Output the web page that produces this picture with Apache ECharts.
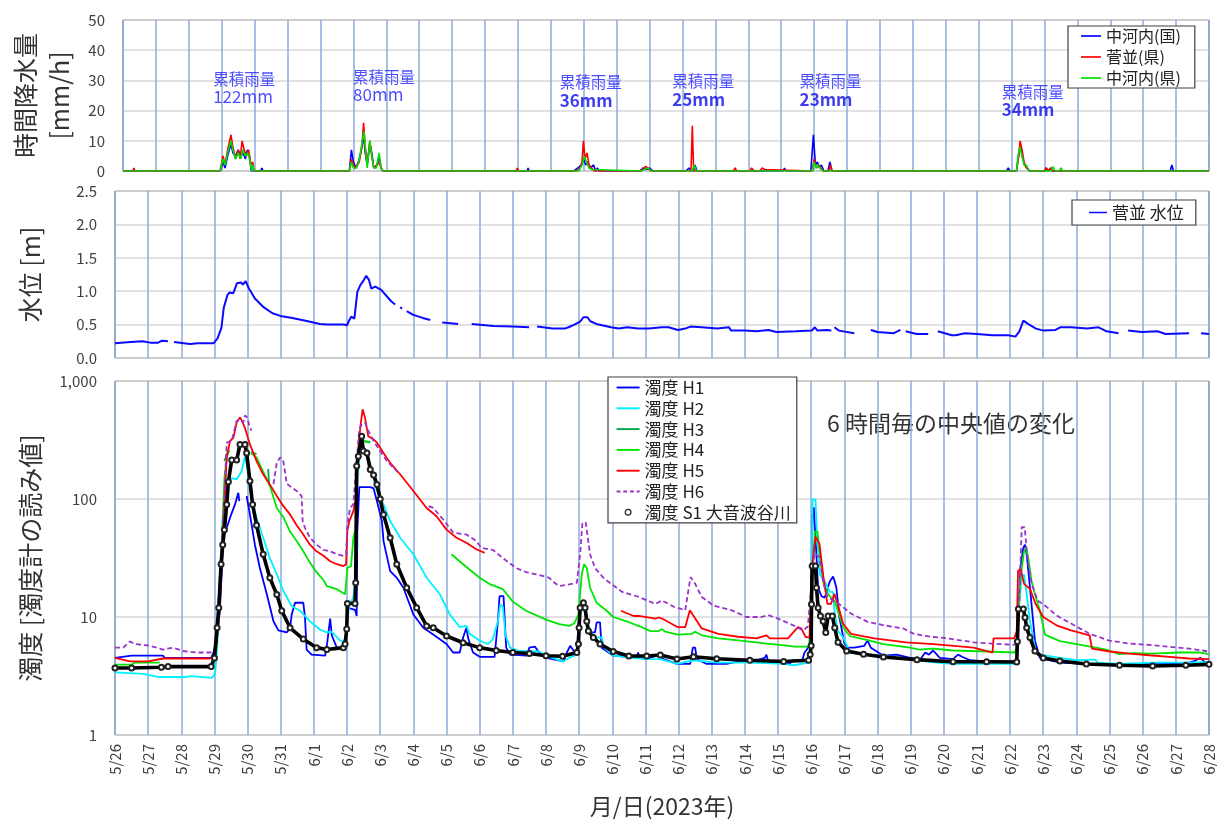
<!DOCTYPE html>
<html>
<head>
<meta charset="utf-8">
<script src="https://cdn.jsdelivr.net/npm/echarts@6/dist/echarts.min.js"></script>
<style>
  html, body { margin: 0; background: #fff; }
  #chart { width: 1217px; height: 821px; }
</style>
</head>
<body>
<div id="chart"></div>
<script>
// x = days since 5/26 00:00, null = gap in the record
const dateLabels = ['5/26','5/27','5/28','5/29','5/30','5/31','6/1','6/2','6/3','6/4','6/5','6/6','6/7','6/8','6/9','6/10',
  '6/11','6/12','6/13','6/14','6/15','6/16','6/17','6/18','6/19','6/20','6/21','6/22','6/23','6/24','6/25','6/26','6/27','6/28'];

// 時間降水量 [mm/h]
const rainNakagochiKuni = [[0,0],[2.95,0],[3.05,3],[3.1,1],[3.18,5],[3.28,9],[3.34,6],[3.42,5],[3.5,7],[3.58,5],[3.65,6],[3.72,4],[3.78,7],[3.84,5],[3.9,0],[4.18,0],[4.22,1],[4.26,0],
  [6.88,0],[6.94,7],[7.0,3],[7.08,1],[7.18,4],[7.26,8],[7.31,12],[7.36,6],[7.42,2],[7.5,9],[7.56,6],[7.62,1],[7.72,2],[7.78,5],[7.84,1],[7.9,0],
  [12.28,0],[12.31,1],[12.34,0],[13.7,0],[13.82,1],[13.92,2],[14.0,4],[14.06,2],[14.12,3],[14.2,1],[14.3,2],[14.36,0],[14.42,1],[14.46,0],
  [15.7,0],[15.8,1],[15.9,0.5],[16.0,1],[16.1,0],[17.1,0],[17.2,1],[17.26,0],[17.34,0],[17.38,2],[17.44,0],[20.06,0],[20.1,1],[20.14,0],
  [20.9,0],[20.98,12],[21.04,2],[21.1,3],[21.16,1],[21.22,2],[21.3,0],[21.42,0],[21.48,3],[21.54,0],
  [26.85,0],[26.9,1],[26.95,0],[27.15,0],[27.22,6],[27.28,8],[27.34,4],[27.4,2],[27.48,1],[27.55,0],
  [28.0,0],[28.05,1],[28.1,0],[28.2,1],[28.25,0],[31.82,0],[31.87,2],[31.92,0],[33,0]];
const rainSuganamiKen = [[0,0],[0.3,0],[0.33,1],[0.36,0],[2.95,0],[3.04,5],[3.1,2],[3.18,7],[3.28,12],[3.34,8],[3.42,4],[3.5,7],[3.56,4],[3.62,10],[3.68,7],[3.75,5],[3.82,7],[3.88,2],[3.94,3],[3.98,0],
  [6.88,0],[6.94,4],[7.0,2],[7.08,1],[7.18,3],[7.26,8],[7.31,16],[7.36,8],[7.42,2],[7.5,10],[7.56,5],[7.62,1],[7.72,2],[7.78,3],[7.84,1],[7.9,0],
  [11.95,0],[11.98,1],[12.02,0],[13.8,0],[13.88,1],[13.95,3],[13.99,10],[14.04,4],[14.1,6],[14.16,2],[14.24,1],[14.32,0],
  [15.75,0],[15.82,1],[15.9,1.5],[15.98,0.5],[16.05,0],[17.26,0],[17.3,15],[17.34,0],
  [18.55,0],[18.6,1],[18.65,0],[19.05,0],[19.1,1],[19.18,0],[19.35,0],[19.42,1],[19.5,0.5],[19.55,0],
  [20.95,0],[21.0,4],[21.06,1],[21.14,2],[21.2,1],[21.28,0],[21.45,0],[21.5,2],[21.55,0],
  [27.15,0],[27.22,5],[27.26,10],[27.32,7],[27.38,3],[27.45,1],[27.55,0],[28.0,0],[28.06,1],[28.12,0],[28.18,1],[28.24,0],[33,0]];
const rainNakagochiKen = [[0,0],[2.95,0],[3.04,4],[3.1,2],[3.18,6],[3.28,10],[3.34,7],[3.42,4],[3.5,6],[3.58,4],[3.64,7],[3.72,5],[3.8,6],[3.86,3],[3.92,0],[3.94,2],[3.98,0],
  [6.88,0],[6.94,3],[7.0,1],[7.1,1],[7.18,4],[7.26,9],[7.32,13],[7.37,7],[7.42,1],[7.5,10],[7.56,5],[7.62,1],[7.7,1],[7.78,6],[7.84,1],[7.9,0],
  [13.85,0],[13.95,2],[14.02,5],[14.08,3],[14.16,1],[14.24,0.5],[14.3,0],[15.75,0],[15.85,0.5],[15.95,1],[16.05,0],
  [17.3,0],[17.36,2],[17.42,0],[18.55,0],[18.6,0.5],[18.65,0],[20.95,0],[21.0,3],[21.06,1],[21.12,2],[21.18,1],[21.26,0],
  [27.15,0],[27.2,5],[27.25,8],[27.32,5],[27.38,2],[27.45,2],[27.52,0],[28.2,0],[28.26,1.5],[28.32,0],[28.45,0],[28.5,1],[28.55,0],[33,0]];

// 累積雨量 notes
const rainNoteText = ['122mm','80mm','36mm','25mm','23mm','34mm'];
const rainNoteDay = [2.74, 6.99, 13.27, 16.69, 20.56, 26.7];
const rainNoteLevel = [27.4, 28.1, 26.3, 26.6, 26.6, 23.0];

// 菅並 水位 [m]
const waterLevel = [[0,0.22],[0.47,0.24],[0.83,0.25],[1.06,0.23],[1.3,0.23],[1.42,0.26],[1.6,0.25],null,[1.78,0.24],[2.26,0.21],[2.5,0.22],[2.97,0.22],
  [3.09,0.29],[3.21,0.45],[3.28,0.75],[3.39,0.94],[3.45,0.98],[3.57,0.97],[3.68,1.12],[3.8,1.13],[3.86,1.1],[3.94,1.15],[4.04,1.04],[4.22,0.89],
  [4.46,0.77],[4.75,0.67],[4.99,0.63],[5.35,0.6],[5.82,0.55],[6.18,0.51],[6.42,0.5],[6.9,0.5],[7.0,0.49],[7.07,0.57],[7.13,0.62],[7.22,0.59],
  [7.31,0.99],[7.4,1.09],[7.46,1.09],[7.51,1.17],[7.58,1.23],[7.66,1.17],[7.73,1.04],[7.85,1.07],[7.91,1.08],[8.03,1.02],[8.33,0.85],[8.45,0.8],null,
  [8.6,0.76],[8.66,0.74],null,[8.8,0.7],[8.98,0.65],[9.28,0.6],[9.51,0.57],null,[9.87,0.53],[10.35,0.51],null,[10.76,0.51],[10.82,0.49],
  [11.42,0.48],[12.0,0.47],[12.49,0.46],null,[12.73,0.47],[13.2,0.44],[13.56,0.44],[13.68,0.46],[13.86,0.5],[14.04,0.55],[14.13,0.61],
  [14.25,0.61],[14.34,0.55],[14.52,0.51],[14.96,0.46],[15.2,0.44],[15.45,0.46],[15.78,0.44],[16.1,0.44],[16.5,0.46],[16.7,0.46],[16.98,0.42],
  [17.2,0.44],[17.36,0.47],[17.69,0.46],[18.17,0.44],[18.52,0.46],[18.58,0.41],[19.0,0.41],[19.35,0.4],[19.71,0.42],[19.95,0.39],[20.54,0.4],
  [21.02,0.41],[21.11,0.46],[21.19,0.41],[21.49,0.42],[21.61,0.41],null,[21.7,0.46],[21.84,0.41],[22.3,0.37],null,[22.8,0.42],[23.0,0.39],
  [23.48,0.37],[23.69,0.42],null,[23.85,0.4],[24.18,0.36],[24.53,0.36],null,[24.82,0.4],[25.24,0.34],[25.36,0.34],[25.64,0.37],[26.0,0.36],
  [26.47,0.34],[26.95,0.34],[27.16,0.32],[27.28,0.4],[27.4,0.56],[27.54,0.51],[27.78,0.44],[28.01,0.41],[28.37,0.42],[28.51,0.46],
  [28.84,0.46],[29.32,0.44],[29.67,0.46],[29.91,0.4],[30.27,0.37],null,[30.56,0.41],[30.97,0.39],[31.45,0.4],[31.69,0.36],[32.4,0.37],null,
  [32.76,0.37],[33,0.36]];

// 濁度 (6時間毎の中央値)
const turbH1 = [[0,4.5],[0.5,4.7],[1.45,4.7],[1.5,4.5],[2.9,4.5],[2.97,5.0],[3.06,6.3],[3.16,11],[3.27,47],[3.37,57],[3.52,76],[3.62,90],[3.72,113],[3.75,96],null,
  [3.97,106],[4.07,74],[4.22,41],[4.37,26],[4.58,15.6],[4.78,9.2],[4.93,7.7],[5.18,7.4],[5.28,8],[5.33,10.5],[5.43,13.2],[5.68,13.2],[5.73,10],
  [5.78,5.3],[5.93,4.8],[6.34,4.7],[6.4,6],[6.49,9.7],[6.54,7],[6.69,5.5],[6.89,5.3],[6.97,5.5],[7.01,12],[7.24,11.5],[7.29,10.2],[7.31,53],
  [7.37,126],[7.7,126],[7.8,123],[7.9,96],[8.05,65],[8.1,44],[8.3,24.5],[8.5,21.5],[8.7,17.7],[9.0,10.5],[9.3,8.1],[9.6,7.1],[10.0,5.9],[10.2,5.0],
  [10.4,5.0],[10.5,6.7],[10.6,8.1],[10.66,6.5],[10.8,5.0],[11.0,4.6],[11.45,4.6],[11.55,9.2],[11.6,15],[11.72,15],[11.8,5.5],[11.92,4.8],
  [12.42,4.7],[12.5,5.5],[12.67,5.6],[12.77,5.1],[13.02,4.5],[13.53,4.2],[13.63,5.0],[13.73,5.7],[13.85,5.1],[13.93,5.0],[14.01,12],[14.13,13.2],
  [14.2,10.5],[14.28,7.4],[14.48,7.4],[14.53,9.0],[14.63,9.0],[14.68,5.5],[15.03,4.7],[15.74,4.5],[15.78,5.0],[15.82,4.5],[16.04,4.4],[16.4,4.8],
  [16.55,4.4],[16.95,4.0],[17.35,4.0],[17.43,5.5],[17.5,5.5],[17.55,4.4],[17.85,4.0],[18.45,4.0],[18.8,4.2],[19.15,4.15],[19.6,4.5],[19.65,4.8],
  [19.7,4.2],[20.35,4.0],[20.45,4.3],[20.72,4.2],[20.8,5.0],[20.87,5.3],[20.95,5.9],[21.0,10.5],[21.04,74],[21.08,85],[21.13,47],[21.21,17.7],
  [21.31,15],[21.41,14.6],[21.56,20],[21.66,22],[21.71,20],[21.76,17.7],[21.85,10],[22.0,6],[22.1,5.5],[22.3,5.5],[22.6,5.7],[22.7,6.3],[22.8,5.5],
  [23.18,4.7],[23.58,4.8],[23.98,4.5],[24.3,4.4],[24.44,5.0],[24.55,4.8],[24.68,5.2],[24.88,4.5],[25.28,4.4],[25.43,4.8],[25.55,4.6],[25.79,4.3],
  [26.29,4.2],[27.2,4.2],[27.25,10.5],[27.31,26],[27.4,38.6],[27.45,41],[27.5,34],[27.6,17.7],[27.75,6.3],[27.9,4.5],[28.5,4.1],[29.3,4.0],
  [31.3,4.0],[32.4,4.1],[32.53,4.2],[32.74,4.5],[32.85,4.2],[33,4.0]];
const turbH2 = [[0,3.4],[0.85,3.3],[1.35,3.1],[2.1,3.1],[2.3,3.15],[2.36,3.05],[2.92,3.05],[3.02,3.3],[3.09,6],[3.17,20],[3.25,74],[3.32,102],
  [3.39,133],[3.52,150],[3.67,147],[3.82,172],[3.92,230],[3.97,200],[4.07,117],[4.27,69],[4.47,47],[4.67,31.6],[4.88,23],[5.08,16.6],[5.33,12.4],
  [5.58,11.3],[5.88,9.2],[6.19,7.8],[6.39,7.4],[6.54,7.5],[6.79,6.3],[6.94,6.3],[7.01,9],[7.07,12.8],[7.19,14.6],[7.27,26],[7.31,142],[7.39,255],
  [7.49,280],[7.6,240],[7.7,195],[7.8,150],[7.9,117],[8.1,90],[8.3,65],[8.6,47],[9.0,34],[9.4,21.5],[9.8,15.6],[10.1,10.5],[10.4,8.2],[10.6,8.4],
  [10.7,7.2],[11.0,6.3],[11.25,5.9],[11.4,6.5],[11.55,9.2],[11.62,12.8],[11.7,12.2],[11.78,7],[11.92,5.5],[12.2,5.15],[12.8,5.1],[13.0,4.7],
  [13.5,4.2],[13.7,4.5],[13.93,4.8],[14.0,10],[14.08,11.7],[14.15,11.3],[14.28,8.5],[14.43,6.7],[14.68,6.7],[14.75,5.5],[15.03,4.7],[15.64,4.5],
  [16.04,4.4],[16.45,4.4],[16.95,4.0],[17.45,4.3],[18.15,4.1],[19.15,4.1],[20.17,4.0],[20.47,3.9],[20.92,4.1],[21.0,10.5],[21.04,99],[21.13,99],
  [21.18,47],[21.26,23],[21.41,20],[21.56,16.3],[21.66,16.3],[21.71,10.5],[21.81,7.6],[21.97,6.7],[22.17,5.0],[22.58,4.8],[23.18,4.7],[23.7,4.5],
  [24.2,4.3],[24.78,4.1],[25.28,4.0],[27.2,4.0],[27.25,10.5],[27.35,22],[27.42,23],[27.5,15.6],[27.6,9.2],[27.75,5.5],[27.9,4.8],[28.5,4.5],
  [29.0,4.3],[29.56,4.35],[29.65,4.1],[30.3,4.0],[31.3,4.1],[32.3,4.1],[33,4.15]];
const turbH3 = [[3.3,210],[3.42,260],null,[4.1,250],[4.27,240],null,[4.62,180],[4.65,130],null,[7.45,310],[7.7,305]];
const turbH4 = [[0,3.95],[0.5,3.95],[0.6,4.1],[1.35,4.1],null,[2.95,4.0],[3.05,5],[3.15,12],[3.22,40],[3.3,150],[3.38,230],[3.45,260],null,
  [4.1,245],[4.27,225],[4.47,170],[4.67,130],[4.88,84],[5.08,70],[5.28,53],[5.48,44],[5.68,36],[5.88,29],[6.08,24],[6.29,20.5],[6.39,18.3],
  [6.69,17.2],[6.94,15.6],[7.01,26],[7.12,27],[7.19,47],[7.27,57],[7.31,190],[7.39,270],[7.49,310],[7.7,300],null,
  [10.15,34],[10.5,28],[11.0,21.5],[11.3,19],[11.7,17.2],[12.0,13.5],[12.4,11.3],[13.0,9.5],[13.4,8.7],[13.7,8.4],[13.85,8.8],[13.98,10.5],
  [14.08,23],[14.15,28],[14.23,26],[14.33,17.7],[14.53,13.2],[14.83,11.3],[15.03,10],[15.43,9.2],[15.84,8.3],[16.15,7.6],[16.4,7.6],[16.5,7.9],
  [16.6,7.5],[16.98,7.1],[17.4,7.2],[17.5,7.5],[17.7,7.0],[18.2,6.6],[18.65,6.4],[19.35,6.1],[19.65,5.95],[20.2,5.75],[20.5,5.6],[20.87,5.6],
  [20.95,5.8],[21.01,14],[21.06,28],[21.11,53],[21.19,53],[21.26,34],[21.36,20],[21.51,15.6],[21.71,13.6],[21.97,8.1],[22.17,6.9],[22.58,6.5],
  [23.18,5.9],[23.98,5.5],[24.27,5.3],[24.68,5.4],[25.28,5.2],[26.29,5.1],[27.15,5.0],[27.22,6],[27.3,20],[27.42,36],[27.48,39],[27.55,31.5],
  [27.65,20],[27.75,15.6],[27.9,11.3],[28.05,7.1],[28.5,6.25],[29.3,5.7],[29.9,5.3],[30.3,4.85],[30.7,4.95],[31.3,4.9],[32.1,5.0],[32.74,5.0],[33,4.85]];
const turbH5 = [[0,4.5],[0.45,4.2],[1.0,4.2],[1.45,4.45],[2.86,4.45],[2.97,4.6],[3.06,5.9],[3.16,12],[3.26,54],[3.37,224],[3.47,310],[3.57,330],
  [3.67,445],[3.77,490],[3.82,465],[3.87,460],[3.92,400],[4.07,290],[4.27,210],[4.47,162],[4.67,133],[4.88,106],[5.08,87],[5.28,74],[5.48,60],
  [5.68,50],[5.88,41],[6.08,36],[6.29,33],[6.49,29.7],[6.69,28],[6.89,27],[6.97,28],[7.01,54],[7.07,65],[7.19,79],[7.27,102],[7.34,270],
  [7.41,430],[7.47,575],[7.54,490],[7.64,340],[7.8,320],[7.9,300],[8.1,245],[8.3,202],[8.6,162],[9.0,117],[9.4,84],[9.7,71.5],[10.0,55],
  [10.3,47],[10.6,42.6],[10.9,37.5],[11.15,35],null,
  [15.26,11.3],[15.64,10.2],[15.8,10.2],[16.3,9.7],[16.4,9.9],[16.5,9.7],[16.98,8.2],[17.2,8.2],[17.34,11.4],[17.4,11.0],[17.7,8.0],[18.2,7.2],
  [18.8,6.8],[19.35,6.6],[19.65,7.0],[19.75,6.6],[20.3,6.6],[20.6,8.2],[20.7,8.0],[20.83,6.8],[20.95,6.7],[21.01,24.7],[21.13,48],[21.25,41.7],
  [21.37,21.8],[21.49,12.9],[21.6,12.9],[21.7,15.7],[21.8,12.9],[21.96,8.8],[22.2,7.2],[22.91,6.6],[23.86,6.1],[24.7,5.9],[25.9,5.5],[26.47,5.0],
  [26.5,6.6],[27.12,6.6],[27.2,7.5],[27.24,24.7],[27.32,25.6],[27.42,19.1],[27.6,17.3],[27.77,12.9],[28.0,10],[28.4,8.5],[28.84,7.7],[29.4,7.0],
  [29.47,5.4],[30.0,5.1],[30.6,4.9],[31.2,4.74],[31.8,4.6],[32.4,4.45],[33,4.4]];
const turbH6 = [[0,5.5],[0.25,5.5],[0.45,6.2],[0.6,5.9],[1.05,5.7],[1.45,5.3],[1.75,5.5],[2.05,5.15],[2.46,5.0],[2.86,5.0],[2.97,5.1],[3.06,6.2],
  [3.22,44],[3.27,74],[3.32,150],[3.37,300],[3.52,310],[3.67,460],[3.77,470],[3.87,445],[3.92,510],[3.99,490],[4.07,400],[4.12,380],null,
  [4.78,134],[4.88,202],[4.98,225],[5.08,208],[5.18,135],[5.33,125],[5.48,117],[5.63,106],[5.66,65],[5.73,57],[5.88,47],[6.08,41],[6.29,37],
  [6.49,36],[6.69,34],[6.89,33],[6.97,34],[7.01,60],[7.09,84],[7.19,90],[7.29,214],[7.37,390],[7.44,430],[7.54,445],[7.64,380],[7.8,310],
  [8.0,255],[8.2,210],[8.45,178],[8.52,170],null,
  [9.46,87],[9.6,84],[9.9,67],[10.2,52],[10.6,50],[10.9,44],[11.05,38.6],[11.4,37],[11.7,31.6],[12.1,26],[12.4,24],[12.7,23],[13.1,21.5],
  [13.2,20],[13.4,18.3],[13.7,18.9],[13.93,19.5],[14.03,34],[14.1,63],[14.2,63],[14.33,34],[14.48,26],[14.73,21.5],[14.97,19.1],[15.3,16.3],
  [15.8,14.8],[16.3,12.9],[16.5,13.8],[16.86,12.2],[17.2,11.4],[17.36,21.8],[17.5,19.1],[17.7,14.8],[18.05,12.5],[18.6,11.4],[19.05,10],
  [19.5,10],[19.7,10.4],[20.0,9.7],[20.46,8.5],[20.76,7.7],[20.9,8.3],[21.0,17.9],[21.1,34.8],[21.25,32],[21.37,19.1],[21.49,14.8],[21.66,13.8],
  [21.84,12.9],[22.2,10.7],[22.7,9.1],[23.2,8.5],[23.78,8.0],[24.1,7.2],[24.6,6.8],[25.1,6.6],[25.9,6.1],[26.47,5.95],[27.2,5.8],[27.27,12],
  [27.35,57.6],[27.44,57.6],[27.53,30],[27.65,19.1],[27.83,13.8],[28.1,12.2],[28.4,10.3],[28.84,8.8],[29.4,7.2],[30.0,6.3],[30.6,5.95],
  [31.2,5.8],[31.8,5.6],[32.4,5.4],[33,5.1]];
const turbS1 = [[0,3.7],[0.5,3.7],[1.4,3.75],[1.6,3.8],[2.9,3.8],[3.0,4.5],[3.08,8.1],[3.13,12],[3.2,28],[3.25,41],[3.3,55],[3.37,90],[3.42,140],
  [3.52,214],[3.67,214],[3.77,290],[3.92,290],[3.97,245],[4.07,142],[4.15,90],[4.27,60],[4.47,34],[4.67,21.5],[4.88,15.5],[5.03,11.3],[5.28,8.1],
  [5.68,6.5],[6.08,5.5],[6.39,5.3],[6.89,5.5],[6.94,5.9],[6.99,7.9],[7.01,13],[7.24,13],[7.26,19.5],[7.29,190],[7.34,230],[7.44,340],[7.49,255],
  [7.6,245],[7.7,178],[7.8,160],[7.9,133],[8.0,100],[8.1,74],[8.3,47],[8.5,28],[8.8,17.7],[9.1,12],[9.4,8.4],[9.6,8.1],[10.0,6.9],[10.5,6.05],
  [11.0,5.5],[11.5,5.2],[12.0,5.0],[12.5,4.9],[13.0,4.7],[13.5,4.65],[13.93,5.0],[13.98,5.9],[14.0,8.1],[14.03,12],[14.13,13.2],[14.18,12],
  [14.23,9.2],[14.28,7.6],[14.43,6.7],[14.63,5.9],[15.03,5.1],[15.5,4.67],[16.04,4.67],[16.45,4.76],[16.95,4.4],[17.45,4.6],[18.15,4.43],
  [19.15,4.3],[20.17,4.2],[20.92,4.3],[20.97,4.8],[21.0,5.7],[21.01,12.8],[21.03,27],[21.13,27],[21.16,17.7],[21.21,12],[21.28,10.2],[21.36,9.2],
  [21.44,7.4],[21.51,10.2],[21.64,10.2],[21.71,8.1],[21.81,6.1],[22.07,5.15],[22.58,4.83],[23.18,4.58],[24.19,4.35],[25.28,4.18],[26.29,4.18],
  [27.2,4.15],[27.22,6.2],[27.25,11.7],[27.4,11.7],[27.45,9.9],[27.5,8.1],[27.6,6.7],[27.75,5.15],[28.0,4.5],[28.5,4.24],[29.3,4.0],[30.3,3.9],
  [31.3,3.84],[32.3,3.9],[33,3.97]];

const FONT = "'Noto Sans CJK JP', 'Noto Sans', sans-serif";
const gap = arr => arr.map(p => (p === null ? ['-', '-'] : p));

const lineIcon = 'path://M0,0H24V2H0Z';
const dashIcon = 'path://M0,0H4V2H0ZM7,0H11V2H7ZM14,0H18V2H14ZM21,0H24V2H21Z';
const ringIcon = 'path://M0,-6M24,6M9,0A3,3,0,1,1,15,0A3,3,0,1,1,9,0Z';

const chart = echarts.init(document.getElementById('chart'));

const gridBox = { left: 115, right: 8, show: true, borderColor: '#595959', borderWidth: 1 };
const daySplit = { show: true, lineStyle: { color: '#8eaadb', width: 1.5 } };
const levelSplit = { show: true, lineStyle: { color: '#d9d9d9', width: 1.5 } };
const tickText = { fontSize: 15, color: '#404040', margin: 18 };

function xAxisFor(i) {
  const last = i === 2;
  return {
    gridIndex: i, type: 'value', min: 0, max: 33, interval: 1,
    axisLine: { show: false }, axisTick: { show: false },
    splitLine: daySplit,
    axisLabel: last ? { rotate: 90, fontSize: 15, color: '#404040', margin: 9, formatter: v => dateLabels[v] } : { show: false },
    name: last ? '月/日(2023年)' : '',
    nameLocation: 'middle', nameGap: 60,
    nameTextStyle: { fontSize: 23, color: '#333' }
  };
}

const rainNotes = rainNoteText.map((t, i) => ({ value: [rainNoteDay[i], rainNoteLevel[i]], name: t }));

const option = {
  animation: false,
  textStyle: { fontFamily: FONT },
  grid: [
    Object.assign({ top: 20, height: 151 }, gridBox),
    Object.assign({ top: 191, height: 167 }, gridBox),
    Object.assign({ top: 381, height: 354 }, gridBox)
  ],
  xAxis: [xAxisFor(0), xAxisFor(1), xAxisFor(2)],
  yAxis: [
    { gridIndex: 0, type: 'value', min: 0, max: 50, interval: 10,
      axisLine: { show: false }, axisTick: { show: false }, splitLine: levelSplit, axisLabel: tickText,
      name: '時間降水量\n[mm/h]', nameLocation: 'middle', nameRotate: 90, nameGap: 47,
      nameTextStyle: { fontSize: 25, lineHeight: 34, color: '#333' } },
    { gridIndex: 1, type: 'value', min: 0, max: 2.5, interval: 0.5,
      axisLine: { show: false }, axisTick: { show: false }, splitLine: levelSplit,
      axisLabel: Object.assign({ formatter: v => v.toFixed(1) }, tickText),
      name: '水位 [m]', nameLocation: 'middle', nameRotate: 90, nameGap: 72,
      nameTextStyle: { fontSize: 25, color: '#333' } },
    { gridIndex: 2, type: 'log', logBase: 10, min: 1, max: 1000,
      axisLine: { show: false }, axisTick: { show: false }, splitLine: levelSplit, minorSplitLine: { show: false },
      axisLabel: Object.assign({ formatter: v => v.toLocaleString('en-US') }, tickText),
      name: '濁度 [濁度計の読み値]', nameLocation: 'middle', nameRotate: 90, nameGap: 72,
      nameTextStyle: { fontSize: 25, color: '#333' } }
  ],
  legend: [
    { left: 1068, top: 26, orient: 'vertical', itemWidth: 20, itemHeight: 12, itemGap: 5,
      padding: [2, 14, 2, 13], borderColor: '#404040', borderWidth: 1.2, backgroundColor: '#fff',
      textStyle: { fontSize: 16, lineHeight: 16, color: '#222' }, itemStyle: { borderWidth: 0 },
      data: [{ name: '中河内(国)', icon: lineIcon }, { name: '菅並(県)', icon: lineIcon }, { name: '中河内(県)', icon: lineIcon }] },
    { left: 1072, top: 200, orient: 'vertical', itemWidth: 18, itemHeight: 12,
      padding: [4, 12, 4, 17], borderColor: '#404040', borderWidth: 1.2, backgroundColor: '#fff',
      textStyle: { fontSize: 17, lineHeight: 17, color: '#222' }, itemStyle: { borderWidth: 0 },
      data: [{ name: '菅並 水位', icon: lineIcon }] },
    { left: 608, top: 377, orient: 'vertical', itemWidth: 23, itemHeight: 12, itemGap: 3.8,
      padding: [2, 6, 2, 8], borderColor: '#404040', borderWidth: 1.2, backgroundColor: '#fff',
      textStyle: { fontSize: 17, lineHeight: 17, color: '#222' }, itemStyle: { borderWidth: 0 },
      data: [
        { name: '濁度 H1', icon: lineIcon }, { name: '濁度 H2', icon: lineIcon }, { name: '濁度 H3', icon: lineIcon },
        { name: '濁度 H4', icon: lineIcon }, { name: '濁度 H5', icon: lineIcon }, { name: '濁度 H6', icon: dashIcon },
        { name: '濁度 S1 大音波谷川', icon: ringIcon, itemStyle: { color: '#fff', borderColor: '#222', borderWidth: 1.2 } }
      ] }
  ],
  graphic: [
    { type: 'text', left: 827, top: 412, style: { text: '6 時間毎の中央値の変化', font: '23px ' + FONT, fill: '#333' } }
  ],
  series: [
    { name: '中河内(国)', type: 'line', xAxisIndex: 0, yAxisIndex: 0, data: rainNakagochiKuni, symbol: 'none',
      lineStyle: { color: '#0000ff', width: 1.6 }, itemStyle: { color: '#0000ff' } },
    { name: '菅並(県)', type: 'line', xAxisIndex: 0, yAxisIndex: 0, data: rainSuganamiKen, symbol: 'none',
      lineStyle: { color: '#ff0000', width: 1.6 }, itemStyle: { color: '#ff0000' } },
    { name: '中河内(県)', type: 'line', xAxisIndex: 0, yAxisIndex: 0, data: rainNakagochiKen, symbol: 'none',
      lineStyle: { color: '#00e000', width: 1.6 }, itemStyle: { color: '#00e000' } },
    { type: 'scatter', xAxisIndex: 0, yAxisIndex: 0, data: rainNotes, symbolSize: 0, silent: true,
      label: { show: true, position: 'right', distance: 0,
        formatter: p => '{a|累積雨量}\n{' + (p.dataIndex < 2 ? 'b' : 'c') + '|' + p.name + '}',
        rich: { a: { fontSize: 15.5, lineHeight: 17, color: '#1f1fff' },
                b: { fontSize: 17, lineHeight: 19, color: '#1f1fff' },
                c: { fontSize: 17, lineHeight: 19, color: '#0b0bee', fontWeight: 'bold' } } } },

    { name: '菅並 水位', type: 'line', xAxisIndex: 1, yAxisIndex: 1, data: gap(waterLevel), symbol: 'none',
      lineStyle: { color: '#0a0aff', width: 2 }, itemStyle: { color: '#0a0aff' } },

    { name: '濁度 H1', type: 'line', xAxisIndex: 2, yAxisIndex: 2, data: gap(turbH1), symbol: 'none',
      lineStyle: { color: '#0000ff', width: 1.8 }, itemStyle: { color: '#0000ff' } },
    { name: '濁度 H2', type: 'line', xAxisIndex: 2, yAxisIndex: 2, data: gap(turbH2), symbol: 'none',
      lineStyle: { color: '#00f0ff', width: 1.8 }, itemStyle: { color: '#00f0ff' } },
    { name: '濁度 H3', type: 'line', xAxisIndex: 2, yAxisIndex: 2, data: gap(turbH3), symbol: 'none',
      lineStyle: { color: '#00a651', width: 1.8 }, itemStyle: { color: '#00a651' } },
    { name: '濁度 H4', type: 'line', xAxisIndex: 2, yAxisIndex: 2, data: gap(turbH4), symbol: 'none',
      lineStyle: { color: '#00e600', width: 1.8 }, itemStyle: { color: '#00e600' } },
    { name: '濁度 H5', type: 'line', xAxisIndex: 2, yAxisIndex: 2, data: gap(turbH5), symbol: 'none',
      lineStyle: { color: '#ff0000', width: 1.8 }, itemStyle: { color: '#ff0000' } },
    { name: '濁度 H6', type: 'line', xAxisIndex: 2, yAxisIndex: 2, data: gap(turbH6), symbol: 'none',
      lineStyle: { color: '#9933cc', width: 1.8, type: [5, 3] }, itemStyle: { color: '#9933cc' } },
    { name: '濁度 S1 大音波谷川', type: 'line', xAxisIndex: 2, yAxisIndex: 2, data: turbS1,
      symbol: 'emptyCircle', symbolSize: 5, showAllSymbol: true,
      lineStyle: { color: '#000', width: 3.6 }, itemStyle: { color: '#222', borderWidth: 1.2 } }
  ]
};

chart.setOption(option);
</script>
</body>
</html>
